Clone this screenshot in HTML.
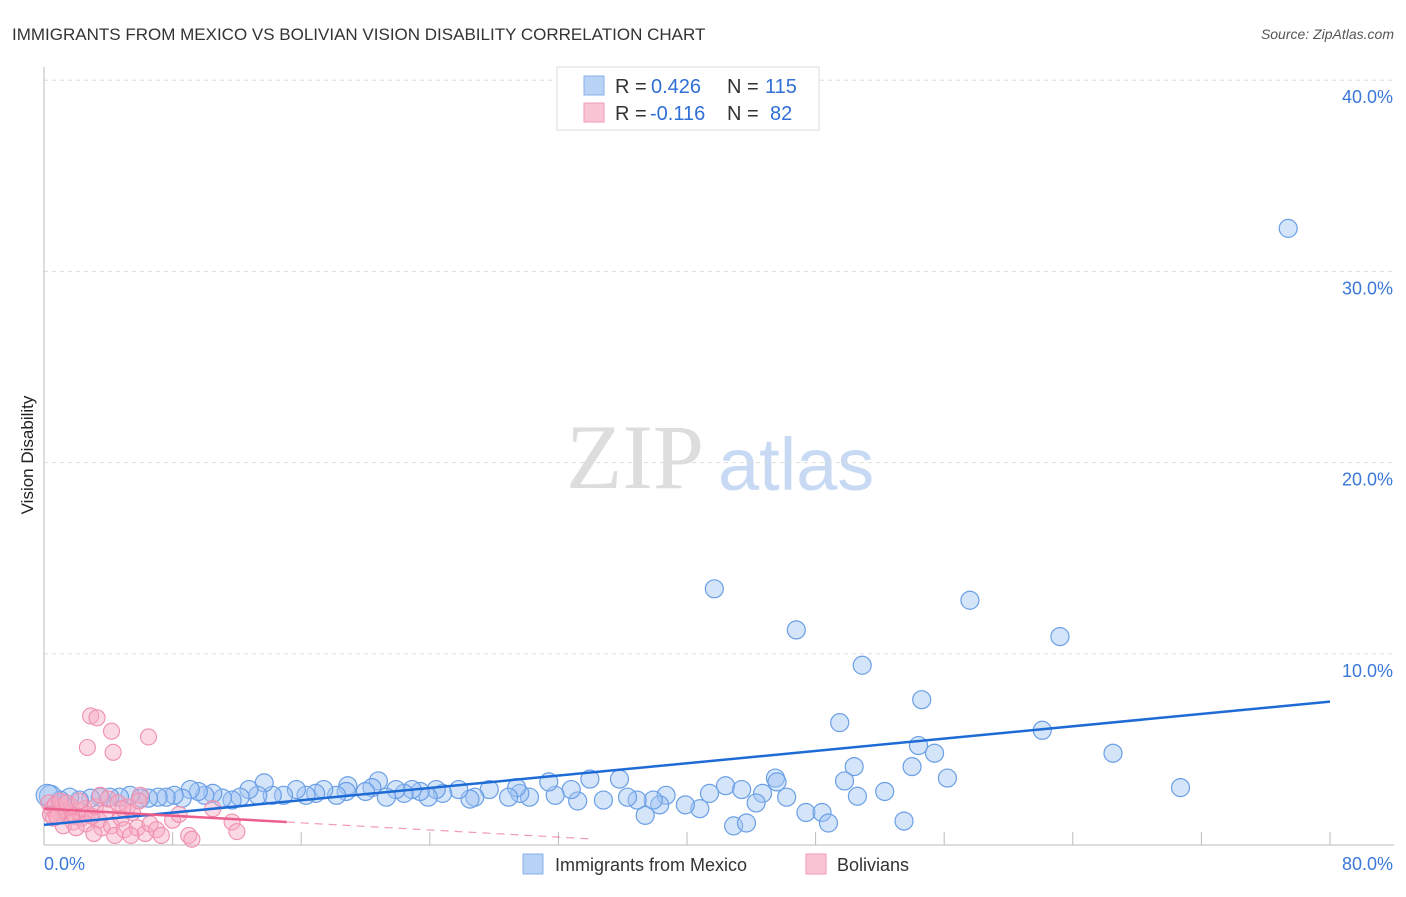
<!DOCTYPE html>
<html><head><meta charset="utf-8"><style>
body{margin:0;background:#fff;font-family:"Liberation Sans",sans-serif;}
</style></head><body>
<svg width="1406" height="892" xmlns="http://www.w3.org/2000/svg" font-family="Liberation Sans, sans-serif">
<text x="12" y="40" font-size="17" fill="#333">IMMIGRANTS FROM MEXICO VS BOLIVIAN VISION DISABILITY CORRELATION CHART</text>
<text x="1394" y="39" font-size="14" fill="#555" font-style="italic" text-anchor="end">Source: ZipAtlas.com</text>
<text x="33" y="455" font-size="17" fill="#222" transform="rotate(-90 33 455)" text-anchor="middle">Vision Disability</text>
<g>
<text x="635" y="488" font-size="92" fill="#ddd" font-family="Liberation Serif, serif" text-anchor="middle">ZIP</text>
<text x="718" y="490" font-size="74" fill="#c8daf3">atlas</text>
</g>
<g id="grid"></g><g id="axes"></g><g id="marks"></g>
<g>
<rect x="557" y="67" width="262" height="63" fill="#fff" stroke="#ddd"/>
<rect x="584" y="76" width="20" height="19" fill="#b9d3f6" stroke="#86b1ea"/>
<rect x="584" y="103" width="20" height="19" fill="#f9c5d4" stroke="#f09ab4"/>
<text x="615" y="93" font-size="20" fill="#333">R =</text>
<text x="651" y="93" font-size="20" fill="#2f6fd6">0.426</text>
<text x="727" y="93" font-size="20" fill="#333">N =</text>
<text x="765" y="93" font-size="20" fill="#2f6fd6">115</text>
<text x="615" y="120" font-size="20" fill="#333">R =</text>
<text x="650" y="120" font-size="20" fill="#2f6fd6">-0.116</text>
<text x="727" y="120" font-size="20" fill="#333">N =</text>
<text x="770" y="120" font-size="20" fill="#2f6fd6">82</text>
</g>
<g>
<rect x="523" y="854" width="20" height="20" fill="#b9d3f6" stroke="#86b1ea"/>
<text x="555" y="871" font-size="18" fill="#333">Immigrants from Mexico</text>
<rect x="806" y="854" width="20" height="20" fill="#f9c5d4" stroke="#f09ab4"/>
<text x="837" y="871" font-size="18" fill="#333">Bolivians</text>
</g>
</svg>
<script>
const yTicks=[10,20,30,40];
const yTickLabels=["10.0%","20.0%","30.0%","40.0%"];
const xTickLabels=["0.0%","80.0%"];
const blueX=[77.4,41.7,57.6,46.8,63.2,50.9,54.6,49.5,62.1,54.4,55.4,66.5,50.4,54.0,56.2,45.5,45.6,42.4,49.8,70.7,52.3,50.6,43.4,44.7,46.2,44.3,47.4,48.4,48.8,53.5,42.9,43.7,41.4,40.8,39.9,38.7,38.3,37.4,37.9,36.9,36.3,35.8,34.8,33.96,33.2,32.8,31.8,31.4,30.2,29.6,29.4,28.9,27.7,26.8,26.5,25.8,24.8,24.4,23.9,23.4,22.9,22.4,21.9,21.3,20.8,20.4,20.0,18.9,18.8,18.2,17.4,16.9,16.3,15.7,14.9,14.2,13.7,13.3,12.75,12.2,11.7,11.1,10.5,10.0,9.6,9.1,8.6,8.1,7.6,7.1,6.5,6.0,5.35,4.7,4.1,3.5,2.9,2.2,1.6,1.0,0.4,0.2];
const blueY=[32.25,13.4,12.8,11.25,10.9,9.4,7.6,6.4,6.0,5.2,4.8,4.8,4.1,4.1,3.5,3.5,3.3,3.1,3.35,3.0,2.8,2.55,2.9,2.7,2.5,2.2,1.7,1.7,1.15,1.25,1.0,1.15,2.7,1.9,2.1,2.6,2.1,1.55,2.35,2.35,2.5,3.45,2.35,3.45,2.3,2.9,2.6,3.3,2.5,2.7,3.0,2.5,2.9,2.5,2.4,2.9,2.7,2.9,2.5,2.8,2.9,2.7,2.9,2.5,3.35,3.0,2.8,3.1,2.8,2.6,2.9,2.7,2.6,2.9,2.6,2.6,3.25,2.6,2.9,2.5,2.35,2.45,2.7,2.6,2.8,2.9,2.45,2.6,2.5,2.5,2.45,2.45,2.6,2.5,2.5,2.5,2.45,2.35,2.5,2.35,2.55,2.6];
const pinkX=[0.3,0.5,0.7,0.9,1.1,1.3,1.5,1.7,1.9,2.1,2.3,2.5,2.7,0.4,0.6,1.0,1.4,1.8,2.2,2.6,3.0,3.2,3.4,3.6,3.8,4.0,4.2,4.4,4.6,4.8,5.0,5.2,5.5,5.8,6.0,6.3,6.6,7.0,7.3,8.0,8.4,9.0,9.2,10.5,11.7,12.0,3.1,5.4,2.9,3.3,4.2,6.5,2.7,4.3,1.2,2.0,0.8,3.5,5.9,4.9];
const pinkY=[2.2,1.9,2.1,1.7,2.0,1.8,1.6,2.0,1.5,1.8,1.4,1.9,1.6,1.6,1.4,2.3,2.2,1.2,2.3,1.1,1.5,2.0,1.3,0.9,1.7,2.4,1.0,0.5,2.2,1.4,0.8,2.0,1.7,0.9,2.6,0.6,1.1,0.8,0.5,1.3,1.6,0.5,0.3,1.9,1.2,0.7,0.6,0.5,6.75,6.65,5.95,5.65,5.1,4.85,1.0,0.9,1.5,2.6,2.3,1.9];
const blueTrend=[[0,1.05],[80,7.5]];
const pinkTrend=[[0,1.9],[15.1,1.2]];
const pinkDash=[[15.1,1.2],[34,0.32]];
const NS="http://www.w3.org/2000/svg";
const sx=v=>44+v*(1330-44)/80, sy=v=>845-v*19.12;
function mk(t,a,p){const e=document.createElementNS(NS,t);for(const k in a)e.setAttribute(k,a[k]);p.appendChild(e);return e;}
const grid=document.getElementById('grid'),axes=document.getElementById('axes'),marks=document.getElementById('marks');
yTicks.forEach((t,i)=>{
 const l=mk('line',{x1:44,x2:1394,y1:sy(t),y2:sy(t),stroke:'#ddd','stroke-dasharray':'4,4'},grid);
 
 
 const tx=mk('text',{x:1393,y:sy(t)+23,'font-size':18,fill:'#3b78d8','text-anchor':'end'},axes);
 tx.textContent=yTickLabels[i];
 
 
});
const ya=mk('line',{x1:44,x2:44,y1:67,y2:845,stroke:'#bbb'},axes);


const xa=mk('line',{x1:44,x2:1394,y1:845,y2:845,stroke:'#bbb'},axes);


for(let v=8;v<=80;v+=8){const t=mk('line',{x1:sx(v),x2:sx(v),y1:832,y2:845,stroke:'#bbb'},axes);
 
 }
[[0,'start'],[80,'end']].forEach((p,i)=>{const t=mk('text',{x:sx(p[0])+(i?63:0),y:870,'font-size':18,fill:'#3b78d8','text-anchor':p[1]},axes);t.textContent=xTickLabels[i];
 
 });
blueX.forEach((x,i)=>{const c=mk('circle',{cx:sx(x),cy:sy(blueY[i]),r:(i>=blueX.length-2?11:9),fill:'rgba(160,196,242,0.45)',stroke:'#6a9fe6','stroke-width':1.2},marks);
 
 });
pinkX.forEach((x,i)=>{const c=mk('circle',{cx:sx(x),cy:sy(pinkY[i]),r:8,fill:'rgba(247,170,195,0.45)',stroke:'#ef8fae','stroke-width':1.1},marks);
 
 });
const b=mk('line',{x1:sx(blueTrend[0][0]),y1:sy(blueTrend[0][1]),x2:sx(blueTrend[1][0]),y2:sy(blueTrend[1][1]),stroke:'#1f6bd6','stroke-width':2.5},marks);


const p=mk('line',{x1:sx(pinkTrend[0][0]),y1:sy(pinkTrend[0][1]),x2:sx(pinkTrend[1][0]),y2:sy(pinkTrend[1][1]),stroke:'#ec5f8c','stroke-width':2.5},marks);


const d=mk('line',{x1:sx(pinkDash[0][0]),y1:sy(pinkDash[0][1]),x2:sx(pinkDash[1][0]),y2:sy(pinkDash[1][1]),stroke:'#f09ab4','stroke-width':1.2,'stroke-dasharray':'8,6'},marks);


</script>
</body></html>
